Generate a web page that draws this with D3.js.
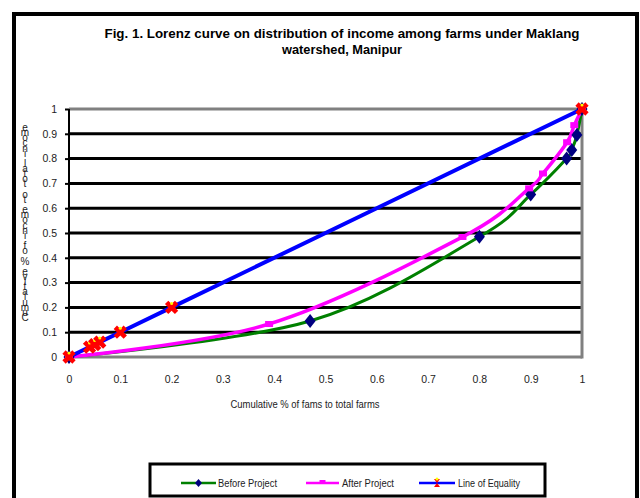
<!DOCTYPE html>
<html><head><meta charset="utf-8">
<script src="https://cdn.jsdelivr.net/npm/d3@7"></script>
<style>body{margin:0;background:#fff}svg{display:block}text{font-family:"Liberation Sans",Arial,sans-serif}</style>
</head><body><svg id="c" width="640" height="498"></svg>
<script>
const titleLines=["Fig. 1. Lorenz curve on distribution of income among farms under Maklang","watershed, Manipur"];
const xTitle="Cumulative % of fams to total farms";
const yTitle="Cumulative % of income to total income";
const xTicks=[0,0.1,0.2,0.3,0.4,0.5,0.6,0.7,0.8,0.9,1];
const xTickLabels=["0","0.1","0.2","0.3","0.4","0.5","0.6","0.7","0.8","0.9","1"];
const yTicks=[0,0.1,0.2,0.3,0.4,0.5,0.6,0.7,0.8,0.9,1];
const yTickLabels=["0","0.1","0.2","0.3","0.4","0.5","0.6","0.7","0.8","0.9","1"];
const seriesNames=["Before Project","After Project","Line of Equality"];
const beforeX=[0,0.47,0.8,0.9,0.97,0.98,0.99,1];
const beforeY=[0,0.145,0.485,0.655,0.80,0.835,0.895,1];
const afterX=[0,0.39,0.767,0.897,0.924,0.971,0.985,1];
const afterY=[0,0.133,0.484,0.68,0.74,0.866,0.935,1];
const equalX=[0,0.04,0.05,0.06,0.1,0.2,1];
const equalY=[0,0.04,0.05,0.06,0.1,0.2,1];

const svg=d3.select("#c");
const x=d3.scaleLinear().domain([0,1]).range([69,582]);
const y=d3.scaleLinear().domain([0,1]).range([357,109]);

// outer border
svg.append("rect").attr("x",14).attr("y",14).attr("width",623).attr("height",520)
  .attr("fill","none").attr("stroke","#000").attr("stroke-width",4);

// title
const tw=[475,120];
titleLines.forEach((t,i)=>{
  svg.append("text").attr("x",342).attr("y",38+i*16).attr("text-anchor","middle")
    .attr("font-size",13).attr("font-weight","bold").attr("fill","#000")
    .attr("textLength",tw[i]).attr("lengthAdjust","spacingAndGlyphs").text(t);
});

// gridlines
svg.append("g").selectAll("line").data(yTicks).join("line")
  .attr("x1",x(0)).attr("x2",x(1)).attr("y1",d=>y(d)).attr("y2",d=>y(d))
  .attr("stroke",d=>(d===0||d===1)?"#808080":"#000").attr("stroke-width",3);
// right border
svg.append("line").attr("x1",x(1)).attr("x2",x(1)).attr("y1",y(1)-1.5).attr("y2",y(0)+1.5)
  .attr("stroke","#808080").attr("stroke-width",3);

// y axis
const ya=svg.append("g").attr("transform",`translate(${x(0)},0)`)
  .call(d3.axisLeft(y).tickValues(yTicks).tickSize(4).tickPadding(8).tickFormat((d,i)=>yTickLabels[i]));
ya.select(".domain").attr("stroke","#000").attr("stroke-width",2).attr("d",`M0,${y(1)}V${y(0)+1}`);
ya.selectAll(".tick line").attr("stroke","#000").attr("stroke-width",2);
ya.selectAll(".tick text").attr("font-size",10.5).attr("fill","#222").attr("font-family","Liberation Sans, Arial, sans-serif");

// x axis
const xa=svg.append("g").attr("transform",`translate(0,${y(0)})`)
  .call(d3.axisBottom(x).tickValues(xTicks).tickSize(0).tickPadding(19).tickFormat((d,i)=>xTickLabels[i]));
xa.select(".domain").remove();
xa.selectAll(".tick text").attr("font-size",10.5).attr("fill","#222").attr("font-family","Liberation Sans, Arial, sans-serif");

// x title
svg.append("text").attr("x",305).attr("y",408).attr("text-anchor","middle").attr("font-size",10)
  .attr("fill","#222").attr("textLength",149).attr("lengthAdjust","spacingAndGlyphs").text(xTitle);

// y title: stacked upright characters reading bottom-to-top
const chars=yTitle.split("").reverse();
const yt=svg.append("text").attr("font-size",10).attr("fill","#222").attr("text-anchor","middle");
chars.forEach((c,i)=>{
  yt.append("tspan").attr("x",25).attr("y",131+i*190/(chars.length-1)).text(c===" "?"\u00a0":c);
});

const curve=d3.curveCardinal.tension(0);
const mk=(xs,ys)=>xs.map((v,i)=>[v,ys[i]]);
const before=mk(beforeX,beforeY), after=mk(afterX,afterY), equal=mk(equalX,equalY);
const line=d3.line().x(d=>x(d[0])).y(d=>y(d[1])).curve(curve);

svg.append("path").attr("d",line(before)).attr("fill","none").attr("stroke","#008000").attr("stroke-width",3);
svg.append("path").attr("d",line(after)).attr("fill","none").attr("stroke","#ff00ff").attr("stroke-width",3.5);
svg.append("path").attr("d",line(equal)).attr("fill","none").attr("stroke","#0000ff").attr("stroke-width",4);

const diamond="M0,-7L5.5,0L0,7L-5.5,0Z";
function drawDiamond(g,cx,cy){g.append("path").attr("d",diamond).attr("transform",`translate(${cx},${cy})`).attr("fill","#000080");}
function drawSquare(g,cx,cy){g.append("rect").attr("x",cx-4).attr("y",cy-3).attr("width",8).attr("height",6).attr("fill","#ff00ff");}
const xsym=d3.symbol().type(d3.symbolCross).size(110)();
function drawX(g,cx,cy){
  g.append("path").attr("d",xsym).attr("transform",`translate(${cx},${cy}) rotate(45)`).attr("fill","#ff0000");
  g.append("circle").attr("cx",cx).attr("cy",cy-4).attr("r",1.5).attr("fill","#ffff00");
}
const mg=svg.append("g");
before.forEach(d=>drawDiamond(mg,x(d[0]),y(d[1])));
after.forEach(d=>drawSquare(mg,x(d[0]),y(d[1])));
equal.forEach(d=>drawX(mg,x(d[0]),y(d[1])));

// legend
svg.append("rect").attr("x",150).attr("y",464).attr("width",395).attr("height",32)
  .attr("fill","#fff").attr("stroke","#000").attr("stroke-width",3);
const leg=[{x1:181,x2:216,tx:218,tw:59,c:"#008000",m:"d"},{x1:306,x2:339,tx:342,tw:52,c:"#ff00ff",m:"s"},{x1:419,x2:455,tx:458,tw:62,c:"#0000ff",m:"x"}];
leg.forEach((l,i)=>{
  const ly=483;
  svg.append("line").attr("x1",l.x1).attr("x2",l.x2).attr("y1",ly).attr("y2",ly).attr("stroke",l.c).attr("stroke-width",2.5);
  const cx=(l.x1+l.x2)/2;
  if(l.m==="d"){svg.append("path").attr("d","M0,-4L3.5,0L0,4L-3.5,0Z").attr("transform",`translate(${cx},${ly})`).attr("fill","#000080");}
  else if(l.m==="s"){svg.append("rect").attr("x",cx-3).attr("y",ly-3).attr("width",6).attr("height",3).attr("fill","#ff00ff");}
  else {svg.append("path").attr("d","M-3,-4L3,-4L0,0L3,4L-3,4L0,0Z").attr("transform",`translate(${cx},${ly})`).attr("fill","#ff0000");
        svg.append("circle").attr("cx",cx).attr("cy",ly-4).attr("r",1.5).attr("fill","#ffff00");}
  svg.append("text").attr("x",l.tx).attr("y",ly+4).attr("font-size",10).attr("fill","#222")
    .attr("textLength",l.tw).attr("lengthAdjust","spacingAndGlyphs").text(seriesNames[i]);
});
</script></body></html>
